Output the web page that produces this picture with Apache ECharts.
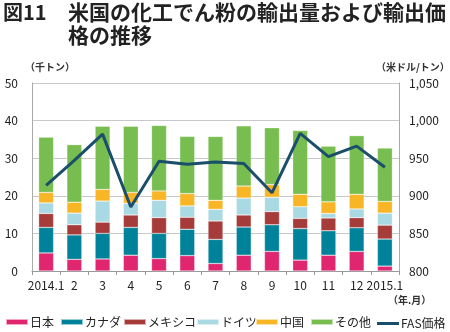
<!DOCTYPE html>
<html><head><meta charset="utf-8">
<script src="https://cdn.jsdelivr.net/npm/echarts@6/dist/echarts.min.js"></script>
<style>html,body{margin:0;padding:0;background:#fff}#c{width:450px;height:332px}</style>
</head><body><div id="c"></div>
<script>
const categories = ['2014.1','2','3','4','5','6','7','8','9','10','11','12','2015.1'];
const japan   = [4.8,3.1,3.2,4.2,3.3,4.1,2.0,4.2,5.2,2.9,4.2,5.2,1.3];
const canada  = [6.8,6.5,6.8,7.4,6.7,7.0,6.4,7.5,7.1,8.4,6.5,6.3,7.2];
const mexico  = [3.7,2.7,3.0,3.3,4.2,3.2,4.9,3.2,3.5,2.7,3.4,2.7,3.7];
const germany = [2.8,3.1,5.6,3.1,4.6,3.0,3.1,4.5,3.8,3.1,1.2,2.3,3.2];
const china   = [2.8,2.9,3.1,2.9,2.5,3.3,2.4,3.2,3.4,3.3,3.1,3.9,3.1];
const other   = [14.7,15.3,16.8,17.6,17.4,15.2,17.0,16.0,15.1,17.0,14.8,15.6,14.2];
const fasPrice = [914,947,982,885,946,942,945,943,904,983,952,966,938];
const leftTicks = [0,50,10];
const rightTicks = [800,1050,50];
const seriesNames = ['日本','カナダ','メキシコ','ドイツ','中国','その他','FAS価格'];

const font = '"Noto Sans CJK JP", "Noto Sans", sans-serif';
const legendLeft = [5,60,123,196,255,310,377];
const chart = echarts.init(document.getElementById('c'));
function bar(name, data, color){
  return {name, type:'bar', stack:'s', data, barWidth:'53%',
    itemStyle:{color, borderColor:'rgba(255,255,255,0.6)', borderWidth:0.5}};
}
const legends = seriesNames.map((n,i)=>({
  left:legendLeft[i], top: i<6 ? 316 : 317.5, padding:0, itemWidth:22, itemHeight: i<6 ? 6 : 3, itemGap:0,
  textStyle:{fontSize:12,fontFamily:font,color:'#222',padding:[0,0,0,-3]},
  data:[ {name:n,icon:'rect'} ]
}));
chart.setOption({
  animation:false,
  textStyle:{fontFamily:font},
  grid:{left:32,right:51,top:83,bottom:61},
  graphic:[
    {type:'text',left:3,top:2,style:{text:'図11',font:'bold 20px '+font,fill:'#222'}},
    {type:'text',left:68,top:2,style:{text:'米国の化工でん粉の輸出量および輸出価',font:'bold 21px '+font,fill:'#222'}},
    {type:'text',left:68,top:25,style:{text:'格の推移',font:'bold 21px '+font,fill:'#222'}},
    {type:'text',left:25,top:62,style:{text:'（千トン）',font:'bold 10px '+font,fill:'#333'}},
    {type:'text',left:376,top:62,style:{text:'（米ドル/トン）',font:'bold 10px '+font,fill:'#333'}},
    {type:'text',left:388,top:295,style:{text:'（年.月）',font:'bold 10px '+font,fill:'#333'}}
  ],
  legend:legends,
  xAxis:{type:'category',data:categories,boundaryGap:true,
    axisLine:{lineStyle:{color:'#999'}},
    axisTick:{show:true,length:4,lineStyle:{color:'#999'}},
    axisLabel:{fontSize:12,color:'#222',margin:8,fontFamily:font,interval:0,hideOverlap:false}},
  yAxis:[
    {type:'value',min:leftTicks[0],max:leftTicks[1],interval:leftTicks[2],
     axisLine:{show:true,lineStyle:{color:'#aaa'}},axisTick:{show:false},
     splitLine:{lineStyle:{color:'#c8c8c8'}},
     axisLabel:{fontSize:12,color:'#222',margin:14,fontFamily:font}},
    {type:'value',min:rightTicks[0],max:rightTicks[1],interval:rightTicks[2],position:'right',
     axisLine:{show:true,lineStyle:{color:'#aaa'}},axisTick:{show:false},splitLine:{show:false},
     axisLabel:{fontSize:12,color:'#222',margin:10,fontFamily:font,
       formatter:v=>v.toLocaleString('en-US')}}
  ],
  series:[
    bar(seriesNames[0],japan,'#e0266e'),
    bar(seriesNames[1],canada,'#00839a'),
    bar(seriesNames[2],mexico,'#a63c3a'),
    bar(seriesNames[3],germany,'#a9d9e3'),
    bar(seriesNames[4],china,'#f8b526'),
    bar(seriesNames[5],other,'#77bd4f'),
    {name:seriesNames[6],type:'line',yAxisIndex:1,data:fasPrice,symbol:'none',
     lineStyle:{color:'#1b4e6b',width:3},itemStyle:{color:'#1b4e6b'}}
  ]
});
</script></body></html>
